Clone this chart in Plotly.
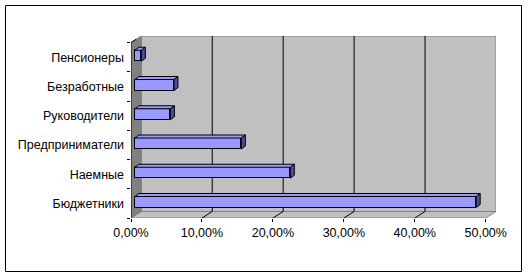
import plotly.graph_objects as go

# ---- data ----
categories = ["Бюджетники", "Наемные", "Предприниматели", "Руководители", "Безработные", "Пенсионеры"]
values = [48.1, 21.9, 15.0, 5.0, 5.5, 0.9]          # percent
x_ticks = [0, 10, 20, 30, 40, 50]
x_tick_labels = ["0,00%", "10,00%", "20,00%", "30,00%", "40,00%", "50,00%"]

# ---- 3D styling parameters (data units) ----
WALL_DX, WALL_DY = 1.45, 0.223     # depth of the chart box
BAR_X0 = 0.56                      # bar front face start (depth offset)
BAR_Y_OFF = 0.047                  # bar front face vertical shift
BAR_H = 0.376                      # bar thickness
BAR_DX, BAR_DY = 0.56, 0.103       # bar depth
N = len(categories)
XMAX = x_ticks[-1] + WALL_DX
YMAX = N + WALL_DY

FRONT = "#9999ff"
SIDE = "#4d4d99"
WALL = "#c0c0c0"
DARK = "#808080"
FONT = dict(family="Arial, Liberation Sans, sans-serif", size=12.5, color="black")

ypos = [i + 0.5 + BAR_Y_OFF for i in range(N)]

fig = go.Figure()
fig.add_trace(go.Bar(
    y=ypos, x=values, base=[BAR_X0] * N, orientation="h", width=BAR_H,
    marker=dict(color=FRONT, line=dict(color="black", width=1)),
    hoverinfo="skip", showlegend=False,
))
# invisible trace to activate secondary y axis for tick marks
fig.add_trace(go.Scatter(x=[0], y=[0], yaxis="y2", mode="markers",
                         marker=dict(opacity=0), hoverinfo="skip", showlegend=False))

shapes = []
# back wall
shapes.append(dict(type="rect", xref="x", yref="y", x0=WALL_DX, x1=XMAX, y0=WALL_DY, y1=YMAX,
                   fillcolor=WALL, line=dict(color=DARK, width=1), layer="below"))
# floor
shapes.append(dict(type="path", xref="x", yref="y",
                   path=f"M 0,0 L {x_ticks[-1]},0 L {XMAX},{WALL_DY} L {WALL_DX},{WALL_DY} Z",
                   fillcolor=WALL, line=dict(color=DARK, width=1), layer="below"))
# left wall
shapes.append(dict(type="path", xref="x", yref="y",
                   path=f"M 0,0 L 0,{N} L {WALL_DX},{YMAX} L {WALL_DX},{WALL_DY} Z",
                   fillcolor=DARK, line=dict(color=DARK, width=1), layer="below"))
# gridlines on back wall and floor
for v in x_ticks[1:-1]:
    shapes.append(dict(type="line", xref="x", yref="y", x0=v + WALL_DX, x1=v + WALL_DX,
                       y0=WALL_DY, y1=YMAX, line=dict(color="black", width=1), layer="below"))
    shapes.append(dict(type="line", xref="x", yref="y", x0=v, x1=v + WALL_DX,
                       y0=0, y1=WALL_DY, line=dict(color="black", width=1), layer="below"))
# front-left axis line
shapes.append(dict(type="line", xref="x", yref="y", x0=0, x1=0, y0=0, y1=N,
                   line=dict(color="black", width=1), layer="above"))
shapes.append(dict(type="line", xref="x", yref="y", x0=0, x1=WALL_DX * 0.5, y0=N, y1=N + WALL_DY * 0.5,
                   line=dict(color="black", width=1), layer="above"))
# bar top and side faces
for y, v in zip(ypos, values):
    x0, x1 = BAR_X0, BAR_X0 + v
    yb, yt = y - BAR_H / 2, y + BAR_H / 2
    shapes.append(dict(type="path", xref="x", yref="y",
                       path=f"M {x0},{yt} L {x0 + BAR_DX},{yt + BAR_DY} L {x1 + BAR_DX},{yt + BAR_DY} L {x1},{yt} Z",
                       fillcolor=FRONT, line=dict(color="black", width=1), layer="above"))
    shapes.append(dict(type="path", xref="x", yref="y",
                       path=f"M {x1},{yb} L {x1},{yt} L {x1 + BAR_DX},{yt + BAR_DY} L {x1 + BAR_DX},{yb + BAR_DY} Z",
                       fillcolor=SIDE, line=dict(color="black", width=1), layer="above"))
# outer chart border
shapes.append(dict(type="rect", xref="paper", yref="paper",
                   x0=(5.5 - 131) / 365, x1=(521.5 - 131) / 365,
                   y0=(218 - 271.5) / 182, y1=(218 - 5.5) / 182,
                   line=dict(color="black", width=1), fillcolor="rgba(0,0,0,0)", layer="below"))

fig.update_layout(
    width=528, height=277,
    margin=dict(l=131, r=32, t=36, b=59),
    paper_bgcolor="white", plot_bgcolor="white",
    font=FONT,
    shapes=shapes,
    bargap=0,
    xaxis=dict(range=[0, XMAX], tickvals=x_ticks, ticktext=x_tick_labels,
               ticks="outside", ticklen=3, tickcolor="black", showgrid=False,
               zeroline=False, showline=False, tickfont=FONT, fixedrange=True),
    yaxis=dict(range=[0, YMAX], tickvals=[i + 0.5 for i in range(N)], ticktext=categories,
               ticks="", showgrid=False, zeroline=False, showline=False,
               tickfont=FONT, ticklabelstandoff=6, fixedrange=True),
    yaxis2=dict(range=[0, YMAX], overlaying="y", side="left", tickvals=list(range(N + 1)),
                ticks="outside", ticklen=3, tickcolor="black", showticklabels=False,
                showgrid=False, zeroline=False, showline=False, fixedrange=True),
)

fig.write_html("out.html")
